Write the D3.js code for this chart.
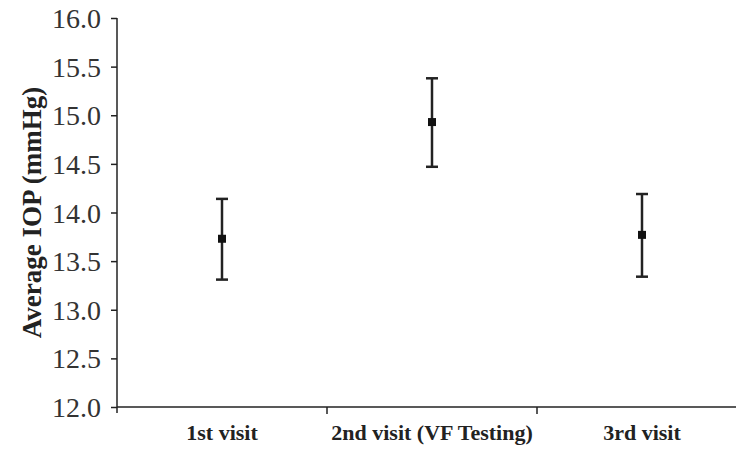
<!DOCTYPE html>
<html>
<head>
  <meta charset="utf-8">
  <title>Average IOP by visit</title>
  <script src="https://cdn.jsdelivr.net/npm/d3@7/dist/d3.min.js"></script>
  <style>
    body { margin: 0; background: #fff; }
    svg { display: block; }
  </style>
</head>
<body>
  <svg width="736" height="449"></svg>

  <script>
    // data
    const visits = ["1st visit", "2nd visit (VF Testing)", "3rd visit"];
    const means = [13.73, 14.93, 13.77];
    const upper = [14.14, 15.38, 14.19];
    const lower = [13.31, 14.47, 13.34];
    const yTicks = [12.0, 12.5, 13.0, 13.5, 14.0, 14.5, 15.0, 15.5, 16.0];

    const data = visits.map((v, i) => ({ visit: v, mean: means[i], hi: upper[i], lo: lower[i] }));

    const svg = d3.select("svg");
    const margin = { top: 18, left: 117, bottom: 42 };
    const plotBottom = 449 - margin.bottom; // 407
    const serif = "'Liberation Serif', 'Times New Roman', Times, serif";

    const x = d3.scaleBand()
      .domain(visits)
      .range([margin.left, margin.left + 630]);

    const y = d3.scaleLinear()
      .domain([12, 16])
      .range([plotBottom, margin.top]);

    const ink = "#222";

    // y axis
    const yAxis = svg.append("g")
      .attr("transform", `translate(${margin.left},0)`)
      .call(d3.axisLeft(y).tickValues(yTicks).tickFormat(d3.format(".1f")).tickSize(6).tickPadding(10));
    yAxis.select(".domain").attr("stroke", ink).attr("stroke-width", 1.5).attr("d", `M0,${margin.top}V${plotBottom + 6}`);
    yAxis.selectAll(".tick line").attr("stroke", ink).attr("stroke-width", 1.5);
    yAxis.selectAll(".tick text")
      .attr("fill", "#333")
      .attr("dy", "0.34em")
      .style("font-family", serif)
      .style("font-size", "28px");

    // x axis: ticks on band edges
    const edges = visits.map(v => x(v)).concat([x.range()[1]]);
    const xAxis = svg.append("g");
    xAxis.append("line")
      .attr("x1", margin.left).attr("x2", x.range()[1])
      .attr("y1", plotBottom).attr("y2", plotBottom)
      .attr("stroke", ink).attr("stroke-width", 1.5);
    xAxis.selectAll("line.tk")
      .data(edges.slice(1))
      .join("line")
      .attr("class", "tk")
      .attr("x1", d => d).attr("x2", d => d)
      .attr("y1", plotBottom).attr("y2", plotBottom + 7)
      .attr("stroke", ink).attr("stroke-width", 1.5);
    xAxis.selectAll("text")
      .data(visits)
      .join("text")
      .attr("x", d => x(d) + x.bandwidth() / 2)
      .attr("y", plotBottom + 33)
      .attr("text-anchor", "middle")
      .attr("fill", "#222")
      .style("font-family", serif)
      .style("font-weight", "bold")
      .style("font-size", "22px")
      .text(d => d);

    // y title
    svg.append("text")
      .attr("transform", `translate(41,${(margin.top + plotBottom) / 2}) rotate(-90)`)
      .attr("text-anchor", "middle")
      .attr("fill", "#222")
      .style("font-family", serif)
      .style("font-weight", "bold")
      .style("font-size", "27px")
      .text("Average IOP (mmHg)");

    // error bars
    const bars = svg.append("g").selectAll("g")
      .data(data)
      .join("g")
      .attr("transform", d => `translate(${x(d.visit) + x.bandwidth() / 2},0)`);

    bars.append("line")
      .attr("y1", d => y(d.hi)).attr("y2", d => y(d.lo))
      .attr("stroke", ink).attr("stroke-width", 2.5);
    bars.append("line")
      .attr("x1", -6).attr("x2", 6)
      .attr("y1", d => y(d.hi)).attr("y2", d => y(d.hi))
      .attr("stroke", ink).attr("stroke-width", 2.5);
    bars.append("line")
      .attr("x1", -6).attr("x2", 6)
      .attr("y1", d => y(d.lo)).attr("y2", d => y(d.lo))
      .attr("stroke", ink).attr("stroke-width", 2.5);
    bars.append("rect")
      .attr("x", -4).attr("width", 8)
      .attr("y", d => y(d.mean) - 4).attr("height", 8)
      .attr("fill", "#111");
  </script>
</body>
</html>
